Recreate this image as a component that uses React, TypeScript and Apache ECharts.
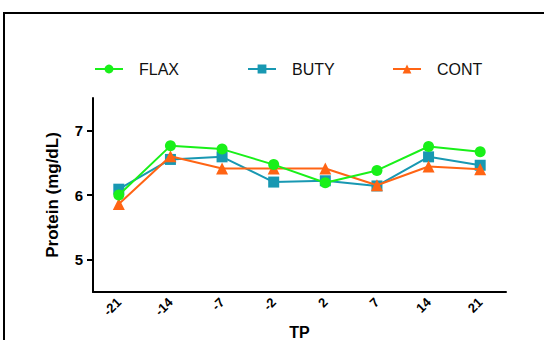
import React, { useEffect, useRef } from "react";
import * as echarts from "echarts";

const categories = ["-21", "-14", "-7", "-2", "2", "7", "14", "21"];
const flax = [6.0, 6.76, 6.71, 6.47, 6.19, 6.38, 6.75, 6.67];
const buty = [6.09, 6.55, 6.59, 6.2, 6.22, 6.14, 6.59, 6.46];
const cont = [5.86, 6.6, 6.41, 6.41, 6.41, 6.15, 6.44, 6.4];
const yTicks = [5, 6, 7];

const GREEN = "#19f019";
const TEAL = "#1898b2";
const ORANGE = "#ff6414";

export default function App() {
  const ref = useRef<HTMLDivElement>(null);
  useEffect(() => {
    if (!ref.current) return;
    const chart = echarts.init(ref.current, undefined, { renderer: "svg" });
    const font = "Liberation Sans, Arial, sans-serif";
    const legendCommon = {
      top: 56,
      itemWidth: 28,
      itemHeight: 11,
      itemGap: 0,
      textStyle: { fontSize: 16, color: "#111", fontFamily: font, padding: [0, 0, 0, 11] },
    };
    chart.setOption({
      animation: false,
      backgroundColor: "#fff",
      graphic: [
        { type: "line", shape: { x1: 3, y1: 13, x2: 600, y2: 13 }, style: { stroke: "#000", lineWidth: 2 } },
        { type: "line", shape: { x1: 4, y1: 13, x2: 4, y2: 400 }, style: { stroke: "#000", lineWidth: 2 } },
      ],
      legend: [
        { ...legendCommon, left: 89, data: ["FLAX"] },
        { ...legendCommon, left: 242, data: ["BUTY"] },
        { ...legendCommon, left: 387, data: ["CONT"] },
      ],
      grid: { left: 93, right: 38, top: 98, bottom: 48, outerBoundsMode: "none", containLabel: false },
      xAxis: {
        type: "category",
        data: categories,
        boundaryGap: true,
        name: "TP",
        nameLocation: "middle",
        nameGap: 24,
        nameTextStyle: { fontSize: 16, fontWeight: "bold", color: "#000", fontFamily: font },
        axisLine: { lineStyle: { color: "#000", width: 2 } },
        axisTick: { alignWithLabel: true, length: 5, lineStyle: { color: "#000", width: 2 } },
        axisLabel: { rotate: 45, fontSize: 13, fontWeight: "bold", color: "#000", fontFamily: font, margin: 8 },
        splitLine: { show: false },
      },
      yAxis: {
        type: "value",
        min: 4.5,
        max: 7.5,
        name: "Protein (mg/dL)",
        nameLocation: "middle",
        nameRotate: 90,
        nameGap: 32,
        nameTextStyle: { fontSize: 17, fontWeight: "bold", color: "#000", fontFamily: font },
        axisLine: { show: true, lineStyle: { color: "#000", width: 2 } },
        axisTick: { show: true, length: 6, customValues: yTicks, lineStyle: { color: "#000", width: 2 } },
        axisLabel: { fontSize: 15, fontWeight: "bold", color: "#000", fontFamily: font, margin: 10, customValues: yTicks },
        splitLine: { show: false },
      },
      series: [
        {
          name: "BUTY", type: "line", data: buty, symbol: "rect", symbolSize: 11,
          itemStyle: { color: TEAL }, lineStyle: { color: TEAL, width: 2 }, z: 2,
        },
        {
          name: "CONT", type: "line", data: cont, symbol: "triangle", symbolSize: 12,
          itemStyle: { color: ORANGE }, lineStyle: { color: ORANGE, width: 2 }, z: 3,
        },
        {
          name: "FLAX", type: "line", data: flax, symbol: "circle", symbolSize: 11,
          itemStyle: { color: GREEN }, lineStyle: { color: GREEN, width: 2 }, z: 4,
        },
      ],
    });
    return () => chart.dispose();
  }, []);
  return <div ref={ref} style={{ position: "fixed", left: 0, top: 0, width: 544, height: 340 }} />;
}
